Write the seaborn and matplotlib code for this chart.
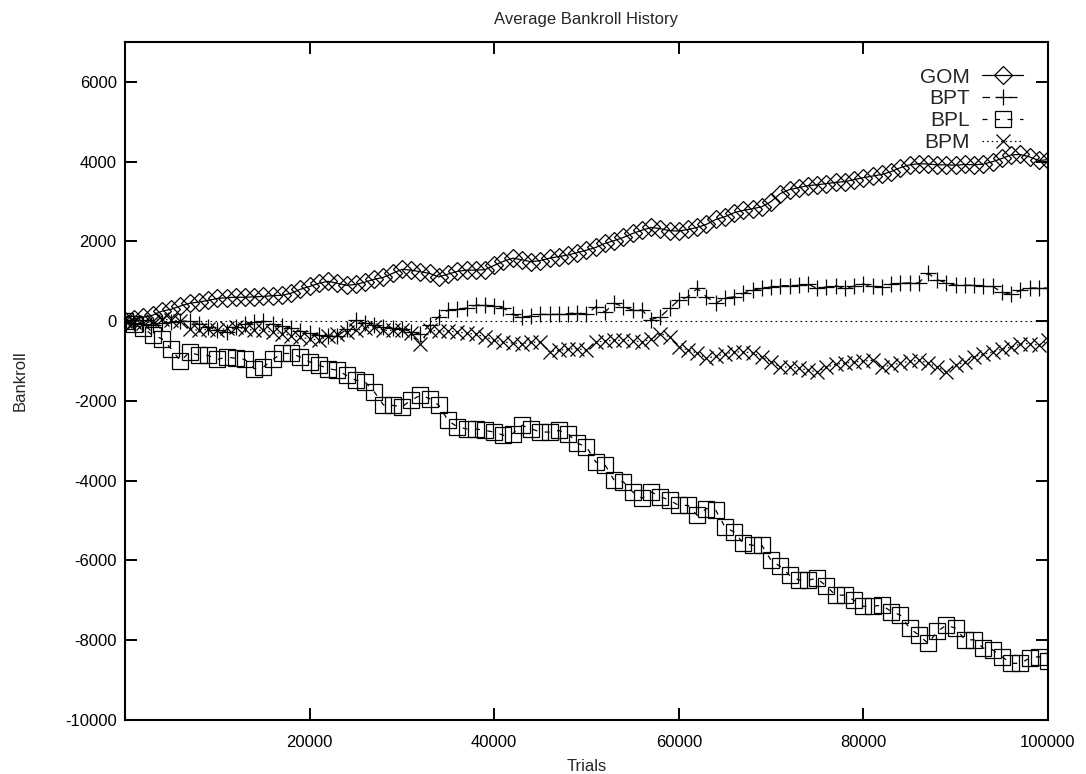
import numpy as np
import pandas as pd
import matplotlib
matplotlib.use("Agg")
import matplotlib.pyplot as plt
import seaborn as sns

trials = [i * 1000 for i in range(101)]

gom = [0, 50, 100, 150, 250, 300, 380, 450, 480, 520,
       570, 590, 600, 600, 610, 620, 640, 650, 700, 800,
       870, 950, 1000, 950, 900, 920, 980, 1050, 1100, 1200,
       1300, 1280, 1240, 1200, 1110, 1180, 1250, 1280, 1280, 1290,
       1400, 1500, 1580, 1540, 1490, 1520, 1580, 1620, 1660, 1720,
       1780, 1850, 1950, 2020, 2100, 2200, 2280, 2350, 2320, 2270,
       2260, 2300, 2350, 2430, 2550, 2620, 2720, 2780, 2820, 2870,
       3000, 3200, 3300, 3350, 3400, 3420, 3450, 3480, 3500, 3550,
       3600, 3640, 3680, 3750, 3850, 3920, 3950, 3940, 3920, 3920,
       3910, 3930, 3920, 3940, 4000, 4080, 4170, 4180, 4120, 4030,
       4050]

bpt = [0, -50, -80, -100, -50, -30, 0, 0, -80, -150,
       -220, -270, -150, -80, -30, 0, -80, -120, -180, -250,
       -300, -350, -370, -380, -200, 30, -50, -100, -150, -180,
       -200, -260, -330, -100, 110, 280, 300, 330, 400, 400,
       380, 330, 170, 100, 130, 170, 170, 170, 190, 210,
       170, 360, 230, 450, 360, 280, 280, 40, 110, 320,
       530, 610, 820, 610, 450, 580, 610, 700, 780, 820,
       860, 890, 890, 900, 930, 820, 860, 890, 820, 880,
       930, 880, 860, 930, 950, 960, 960, 1200, 1040, 960,
       900, 900, 900, 880, 870, 730, 670, 770, 830, 830,
       830]

bpl = [0, -80, -180, -350, -440, -690, -1000, -780, -850, -860,
       -960, -900, -930, -960, -1190, -1150, -960, -810, -810, -900,
       -1020, -1100, -1190, -1230, -1360, -1480, -1520, -1770, -2100, -2110,
       -2150, -1980, -1860, -1940, -2110, -2490, -2650, -2700, -2700, -2740,
       -2780, -2860, -2820, -2610, -2700, -2780, -2780, -2740, -2820, -3060,
       -3150, -3530, -3600, -3990, -4030, -4280, -4440, -4280, -4400, -4490,
       -4620, -4620, -4870, -4700, -4740, -5160, -5290, -5570, -5620, -5620,
       -6000, -6150, -6370, -6490, -6490, -6450, -6650, -6870, -6870, -7000,
       -7150, -7150, -7120, -7280, -7370, -7700, -7870, -8080, -7780, -7620,
       -7700, -7990, -7990, -8200, -8240, -8410, -8580, -8580, -8450, -8410,
       -8530]

bpm = [0, -20, -50, 0, 50, 30, 0, -200, -230, -200,
       -230, -180, -140, -200, -230, -230, -280, -310, -360, -400,
       -450, -470, -380, -310, -260, -230, -180, -140, -230, -230,
       -230, -300, -560, -230, -250, -250, -270, -300, -330, -390,
       -480, -520, -550, -560, -530, -520, -770, -730, -700, -690,
       -730, -520, -500, -480, -480, -490, -520, -450, -310, -390,
       -650, -720, -800, -930, -880, -820, -770, -770, -800, -900,
       -1020, -1150, -1150, -1180, -1230, -1270, -1150, -1080, -1050, -1020,
       -1000, -980, -1150, -1100, -1050, -1010, -980, -1050, -1150, -1270,
       -1100, -1020, -890, -830, -770, -700, -650, -570, -560, -600,
       -480]

series_names = ["GOM", "BPT", "BPL", "BPM"]
series_values = [gom, bpt, bpl, bpm]

x_ticks = [20000, 40000, 60000, 80000, 100000]
y_ticks = [-10000, -8000, -6000, -4000, -2000, 0, 2000, 4000, 6000]

sns.set_style("ticks")
plt.rcParams["font.family"] = ["Liberation Sans", "DejaVu Sans"]

fig = plt.figure(figsize=(10.86, 7.74), dpi=100)
ax = fig.add_axes([0.1151, 0.0698, 0.965 - 0.1151, 0.9457 - 0.0698])

styles = {
    "GOM": dict(marker="D", markersize=9.3, linestyle="-"),
    "BPT": dict(marker="+", markersize=11.5, linestyle=(0, (6, 5))),
    "BPL": dict(marker="s", markersize=11.0, linestyle=(0, (4, 6))),
    "BPM": dict(marker="x", markersize=10.0, linestyle=(0, (1.2, 2.5))),
}

for name, vals in zip(series_names, series_values):
    df = pd.DataFrame({"Trials": trials, "Bankroll": vals})
    st = styles[name]
    sns.lineplot(data=df, x="Trials", y="Bankroll", ax=ax, color="black",
                 marker=st["marker"], markersize=st["markersize"],
                 linestyle=st["linestyle"], linewidth=0.9,
                 markerfacecolor="none", markeredgecolor="black",
                 markeredgewidth=0.9, label=name, legend=False)

ax.axhline(0, color="black", linewidth=0.8, linestyle=(0, (1.5, 3)), zorder=0)

ax.set_xlim(0, 100000)
ax.set_ylim(-10000, 7000)
ax.set_xticks(x_ticks)
ax.set_yticks(y_ticks)
ax.set_xticklabels([str(t) for t in x_ticks])
ax.set_yticklabels([str(t) for t in y_ticks])
ax.tick_params(direction="in", length=8.5, width=1.4, top=True, right=True,
               labelsize=12, colors="black")
ax.tick_params(axis="y", pad=6)
ax.tick_params(axis="x", pad=11)
for sp in ax.spines.values():
    sp.set_visible(True)
    sp.set_linewidth(1.5)
    sp.set_color("black")

ax.set_title("Average Bankroll History", fontsize=12, pad=13)
ax.set_xlabel("Trials", fontsize=12, labelpad=6)
ax.set_ylabel("Bankroll", fontsize=12, labelpad=27)

handles, labels = ax.get_legend_handles_labels()
ax.legend(handles[:4], labels[:4], loc="upper right", markerfirst=False,
          frameon=False, fontsize=15, handlelength=1.95, handletextpad=0.6,
          labelspacing=0.13, borderaxespad=0, borderpad=0,
          bbox_to_anchor=(0.973, 0.962))

fig.savefig("out.png", dpi=100)
